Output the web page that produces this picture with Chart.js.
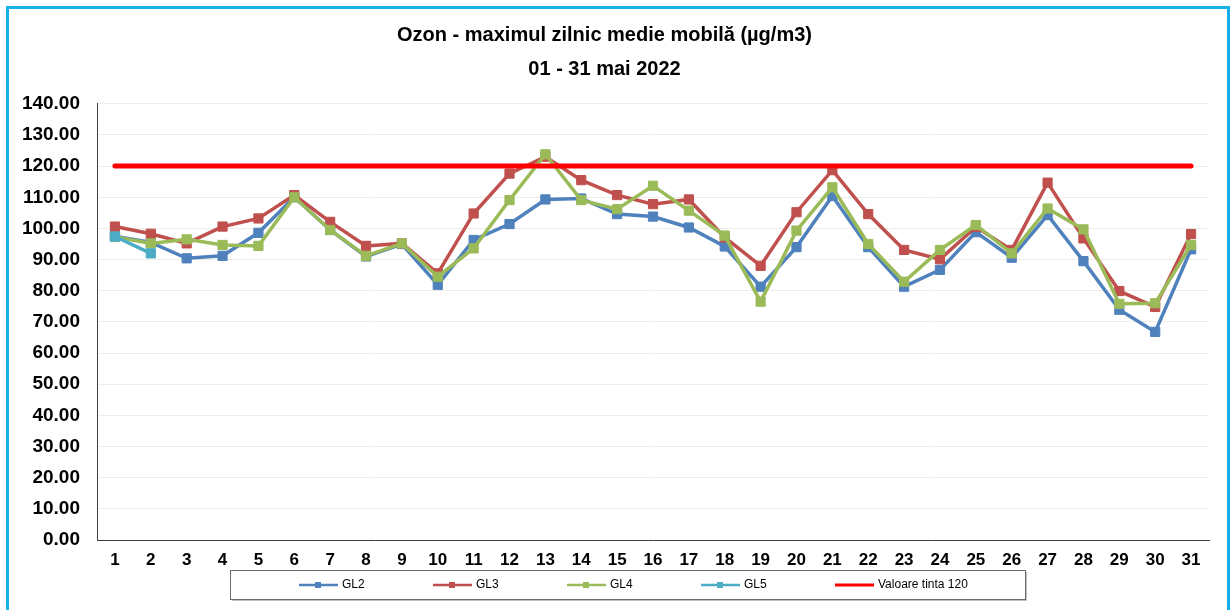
<!DOCTYPE html>
<html>
<head>
<meta charset="utf-8">
<script src="https://cdn.jsdelivr.net/npm/chart.js@4.4.1/dist/chart.umd.min.js"></script>
<style>
  body { margin: 0; background: #fff; }
  .frame { position: absolute; left: 6px; top: 6px; width: 1218px; height: 700px; border: 3px solid #15AFEA; }
  #wrap { position: absolute; left: 0; top: 0; width: 1230px; height: 610px; }
</style>
</head>
<body>
<div class="frame"></div>
<div id="wrap"><canvas id="ozon" width="1230" height="610"></canvas></div>
<script>
// date
const zile = ['1','2','3','4','5','6','7','8','9','10','11','12','13','14','15','16',
  '17','18','19','20','21','22','23','24','25','26','27','28','29','30','31'];
const gl2 = [97.5, 95.5, 90.4, 91.2, 98.6, 110.0, 99.5, 91.0, 95.0, 81.9, 96.3, 101.4, 109.3, 109.6, 104.6, 103.8,
  100.3, 94.2, 81.3, 94.0, 110.4, 94.0, 81.3, 86.7, 98.8, 90.6, 104.3, 89.5, 73.9, 66.8, 93.3];
const gl3 = [100.6, 98.3, 95.2, 100.6, 103.2, 110.7, 102.1, 94.4, 95.2, 85.6, 104.8, 117.6, 123.0, 115.5, 110.7, 107.8,
  109.3, 97.1, 88.0, 105.2, 118.7, 104.6, 93.1, 90.1, 100.5, 93.1, 114.7, 96.8, 79.9, 74.8, 98.2];
const gl4 = [97.3, 95.2, 96.5, 94.7, 94.4, 110.0, 99.5, 91.2, 95.2, 84.5, 93.6, 109.1, 123.8, 109.1, 106.2, 113.7,
  105.7, 97.7, 76.5, 99.3, 113.2, 95.0, 82.9, 93.1, 101.1, 92.0, 106.4, 99.7, 75.8, 76.0, 94.7];
const gl5 = [97.4, 92.0];
const tinta = 120;
const yTicks = [0, 10, 20, 30, 40, 50, 60, 70, 80, 90, 100, 110, 120, 130, 140];

function serie(label, data, color, order) {
  return {
    label: label,
    data: data,
    borderColor: color,
    backgroundColor: color,
    borderWidth: 3.5,
    pointStyle: 'rect',
    pointRadius: 6.5,
    pointBorderWidth: 1,
    pointBorderColor: color,
    pointBackgroundColor: color,
    tension: 0,
    order: order
  };
}

// legenda desenata ca in Excel: casuta cu 5 pozitii egale
const legendaBox = {
  id: 'legendaBox',
  afterDraw(chart) {
    const ctx = chart.ctx;
    ctx.save();
    ctx.fillStyle = 'rgba(0,0,0,0.25)';
    ctx.fillRect(232, 572, 795, 29);
    ctx.fillStyle = '#fff';
    ctx.fillRect(230, 570, 795, 29);
    ctx.strokeStyle = '#6b6b6b';
    ctx.lineWidth = 1;
    ctx.strokeRect(230.5, 570.5, 795, 29);
    const items = [0, 1, 2, 3, 4];
    items.forEach(i => {
      const ds = chart.data.datasets[i];
      const x0 = 299 + i * 134;
      const y = 585;
      ctx.strokeStyle = ds.borderColor;
      ctx.lineWidth = i === 4 ? 3 : 2.5;
      ctx.beginPath();
      ctx.moveTo(x0, y);
      ctx.lineTo(x0 + 39, y);
      ctx.stroke();
      if (i < 4) {
        ctx.fillStyle = ds.borderColor;
        ctx.fillRect(x0 + 16, y - 3, 6, 6);
      }
      ctx.fillStyle = '#000';
      ctx.font = '12px "Liberation Sans Narrow", "Arial Narrow", sans-serif';
      ctx.textBaseline = 'middle';
      ctx.fillText(ds.label, x0 + 43, y);
    });
    ctx.restore();
  }
};

const ctx = document.getElementById('ozon').getContext('2d');
new Chart(ctx, {
  type: 'line',
  data: {
    labels: zile,
    datasets: [
      serie('GL2', gl2, '#4F81BD', 4),
      serie('GL3', gl3, '#C0504D', 3),
      serie('GL4', gl4, '#9BBB59', 2),
      serie('GL5', gl5, '#4BACC6', 1),
      {
        label: 'Valoare tinta 120',
        data: zile.map(() => tinta),
        borderColor: '#FF0000',
        backgroundColor: '#FF0000',
        borderWidth: 5,
        borderCapStyle: 'round',
        pointRadius: 0,
        order: 0
      }
    ]
  },
  options: {
    responsive: false,
    animation: false,
    layout: { padding: { left: 0, right: 21, top: 0, bottom: 0 } },
    plugins: {
      legend: { display: false },
      tooltip: { enabled: false },
      title: {
        display: true,
        text: ['Ozon - maximul zilnic medie mobilă (µg/m3)', '01 - 31 mai 2022'],
        color: '#000',
        font: { family: 'Liberation Sans, Arial, sans-serif', size: 20, weight: 'bold', lineHeight: 1.72 },
        padding: { top: 18, bottom: 17 }
      }
    },
    scales: {
      x: {
        offset: true,
        grid: { display: false, drawTicks: false },
        border: { display: true, color: '#404040', width: 1 },
        ticks: {
          color: '#000',
          padding: 10,
          maxRotation: 0,
          autoSkip: false,
          font: { family: 'Liberation Sans, Arial, sans-serif', size: 17, weight: 'bold' }
        },
        afterFit(s) { s.height = 70; }
      },
      y: {
        min: 0,
        max: 140,
        afterBuildTicks(s) { s.ticks = yTicks.map(v => ({ value: v })); },
        grid: { color: '#EEEEE6', lineWidth: 1, drawTicks: false },
        border: { display: true, color: '#404040', width: 1 },
        ticks: {
          color: '#000',
          padding: 17,
          font: { family: 'Liberation Sans, Arial, sans-serif', size: 19, weight: 'bold' },
          callback: v => v.toFixed(2)
        },
        afterFit(s) { s.width = 97; }
      }
    }
  },
  plugins: [legendaBox]
});
</script>
</body>
</html>
